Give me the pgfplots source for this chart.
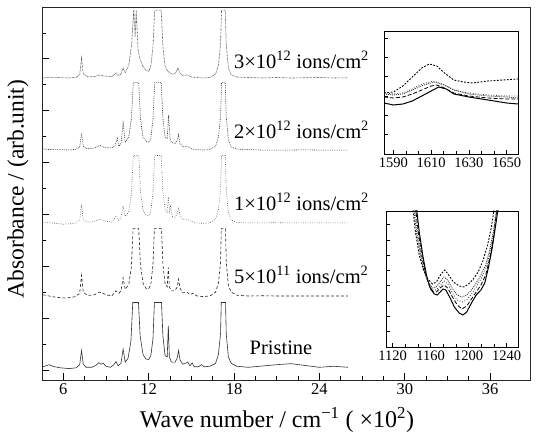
\documentclass[border=0pt]{standalone}
\usepackage{fontspec}
\setmainfont{Liberation Serif}
\usepackage{pgfplots}
\pgfplotsset{compat=1.18}
\usepackage{pgfplotstable}

% Pristine (relative to its baseline, clipped peaks at 2.6)
\pgfplotstableread{
x y
4.55 0.12
4.8 0.16
5.0 0.2
5.3 0.13
5.8 0.08
6.4 0.05
6.9 0.08
7.15 0.2
7.28 0.75
7.4 0.22
7.6 0.1
8.0 0.1
8.3 0.18
8.5 0.28
8.65 0.22
8.8 0.26
9.0 0.14
9.3 0.1
9.55 0.2
9.7 0.32
9.85 0.16
10.05 0.25
10.2 0.8
10.35 0.3
10.55 0.45
10.75 1.1
10.88 2.6
11.28 2.6
11.4 1.3
11.6 0.6
11.8 0.42
12.0 0.4
12.15 0.55
12.3 1.2
12.4 2.6
12.9 2.6
13.0 1.3
13.15 0.55
13.3 0.5
13.38 1.7
13.45 0.5
13.6 0.3
13.85 0.3
14.0 0.45
14.1 0.75
14.2 0.38
14.4 0.22
14.6 0.26
14.75 0.3
14.9 0.16
15.05 0.27
15.2 0.12
15.5 0.12
15.7 0.2
15.9 0.12
16.3 0.14
16.7 0.25
16.9 0.6
17.05 1.4
17.1 2.6
17.4 2.6
17.45 1.4
17.6 0.5
17.8 0.25
18.2 0.14
19.0 0.1
20.0 0.15
21.0 0.2
22.0 0.24
23.0 0.17
24.0 0.1
25.0 0.14
26.0 0.1
}\pristine

\pgfplotstableread{
x y
4.55 0.05
5.0 0.0
5.5 -0.05
6.2 -0.08
6.8 -0.03
7.15 0.1
7.28 0.8
7.4 0.15
7.7 0.02
8.2 0.05
8.5 0.15
8.7 0.12
9.0 0.05
9.4 0.0
9.7 0.2
9.9 0.1
10.05 0.2
10.2 0.7
10.35 0.25
10.6 0.45
10.78 1.1
10.9 2.6
11.3 2.6
11.42 1.2
11.6 0.5
11.8 0.3
12.0 0.28
12.15 0.45
12.3 1.2
12.4 2.6
12.9 2.6
13.0 1.2
13.15 0.5
13.3 0.35
13.38 1.1
13.45 0.35
13.6 0.2
13.85 0.2
14.0 0.35
14.1 0.65
14.2 0.3
14.4 0.12
14.7 0.15
14.9 0.05
15.1 0.1
15.4 0.0
15.8 -0.02
16.3 0.0
16.7 0.15
16.9 0.5
17.05 1.3
17.1 2.6
17.4 2.6
17.45 1.3
17.6 0.4
17.8 0.15
18.2 0.03
19 0.0
20 0.01
21 0.0
22 0.0
23 0.0
24 0.0
25 0.0
26 0.0
}\fivee

\pgfplotstableread{
x y
4.55 0.04
5.2 0.0
6.0 -0.05
6.8 -0.02
7.15 0.1
7.28 0.7
7.4 0.12
7.8 0.02
8.3 0.08
8.6 0.15
8.9 0.08
9.4 0.02
9.7 0.25
9.9 0.1
10.05 0.2
10.2 0.65
10.35 0.25
10.6 0.45
10.78 1.1
10.92 2.6
11.3 2.6
11.42 1.2
11.6 0.5
11.8 0.3
12.0 0.28
12.15 0.45
12.3 1.2
12.42 2.6
12.88 2.6
13.0 1.2
13.15 0.5
13.3 0.4
13.38 1.0
13.48 0.45
13.55 0.7
13.65 0.25
13.85 0.22
14.0 0.35
14.1 0.6
14.2 0.28
14.4 0.12
14.7 0.14
15.0 0.05
15.4 0.0
15.8 -0.02
16.3 0.0
16.7 0.15
16.9 0.5
17.05 1.3
17.12 2.6
17.38 2.6
17.45 1.3
17.6 0.4
17.8 0.12
18.2 0.02
19 0.0
20 0.0
21 0.01
22 0.0
23 0.0
24 0.0
25 0.0
26 0.0
}\onet

\pgfplotstableread{
x y
4.55 0.05
5.0 0.02
5.6 0.03
6.3 0.0
6.9 0.03
7.15 0.12
7.28 0.65
7.4 0.15
7.7 0.05
8.2 0.08
8.6 0.18
8.9 0.1
9.4 0.08
9.65 0.2
9.8 0.45
9.9 0.15
10.05 0.25
10.2 1.05
10.35 0.3
10.6 0.5
10.78 1.2
10.92 2.6
11.3 2.6
11.42 1.2
11.6 0.5
11.8 0.35
12.0 0.3
12.15 0.45
12.3 1.2
12.42 2.6
12.88 2.6
13.0 1.2
13.15 0.5
13.3 0.45
13.4 1.35
13.5 0.45
13.6 0.3
13.85 0.25
14.0 0.35
14.1 0.6
14.2 0.25
14.4 0.12
14.7 0.15
15.0 0.05
15.4 0.02
15.8 0.0
16.3 0.02
16.7 0.15
16.9 0.5
17.05 1.3
17.12 2.6
17.38 2.6
17.45 1.3
17.6 0.4
17.8 0.12
18.2 0.04
19 0.02
20 0.0
21 0.0
22 0.0
23 0.01
24 0.0
25 0.0
26 0.0
}\twot

\pgfplotstableread{
x y
4.55 0.0
5.0 0.03
5.6 0.02
6.3 0.0
6.9 0.03
7.15 0.12
7.28 0.77
7.4 0.15
7.7 0.05
8.2 0.05
8.5 0.12
8.8 0.08
9.4 0.05
9.7 0.2
9.85 0.1
10.05 0.15
10.2 0.38
10.35 0.2
10.6 0.5
10.8 1.3
10.95 2.62
11.05 1.6
11.12 2.62
11.25 1.1
11.4 0.7
11.6 0.45
11.8 0.3
12.0 0.25
12.15 0.45
12.3 1.2
12.42 2.62
12.88 2.62
13.0 1.2
13.15 0.45
13.3 0.3
13.45 0.2
13.7 0.15
13.9 0.2
14.05 0.38
14.2 0.2
14.4 0.1
14.7 0.12
15.0 0.04
15.4 0.02
15.8 0.0
16.3 0.02
16.7 0.15
16.9 0.5
17.05 1.3
17.12 2.62
17.38 2.62
17.45 1.3
17.6 0.4
17.8 0.12
18.2 0.04
19 0.02
20 0.0
21 0.02
22 0.0
23 0.01
24 0.02
25 0.0
26 0.01
}\threet

\begin{document}
\begin{tikzpicture}
\path[use as bounding box] (0pt,0pt) rectangle (539pt,439pt);
\begin{axis}[
  at={(42pt,59pt)}, anchor=south west, scale only axis,
  width=488pt, height=373pt,
  xmin=4.5, xmax=38.8, ymin=-0.39, ymax=14,
  xtick={6,12,...,36}, minor x tick num=3,
  ytick={0,2,...,14}, minor ytick={1,3,...,13}, yticklabels={},
  xtick pos=bottom, ytick pos=left, tick align=inside,
  major tick length=7pt, minor tick length=4pt,
  axis line style={line width=0.9pt, black!85},
  every tick/.style={black, line width=0.7pt},
  every minor tick/.style={black, line width=0.7pt},
  tick label style={font=\fontsize{16.5}{18}\selectfont},
  /pgf/number format/assume math mode=true,
  clip=true,
]
\addplot[black!80, line width=0.6pt] table[x=x, y=y] {\pristine};
\addplot[black!85, line width=0.6pt, dash pattern=on 3pt off 2pt] table[x=x, y expr=\thisrow{y}+2.85] {\fivee};
\addplot[black!70, line width=0.6pt, dash pattern=on 0.7pt off 1.6pt] table[x=x, y expr=\thisrow{y}+5.67] {\onet};
\addplot[black!80, line width=0.6pt, dash pattern=on 0.8pt off 1pt] table[x=x, y expr=\thisrow{y}+8.48] {\twot};
\addplot[black!80, line width=0.6pt, dash pattern=on 0.6pt off 0.8pt] table[x=x, y expr=\thisrow{y}+11.26] {\threet};
\node[anchor=west, font=\fontsize{20.5}{22}\selectfont] at (axis cs:17.75,11.96) {3×10\textsuperscript{12} ions/cm\textsuperscript{2}};
\node[anchor=west, font=\fontsize{20.5}{22}\selectfont] at (axis cs:17.75,9.26) {2×10\textsuperscript{12} ions/cm\textsuperscript{2}};
\node[anchor=west, font=\fontsize{20.5}{22}\selectfont] at (axis cs:17.75,6.48) {1×10\textsuperscript{12} ions/cm\textsuperscript{2}};
\node[anchor=west, font=\fontsize{20.5}{22}\selectfont] at (axis cs:17.75,3.66) {5×10\textsuperscript{11} ions/cm\textsuperscript{2}};
\node[font=\fontsize{20.5}{22}\selectfont] at (axis cs:21.3,0.85) {Pristine};
\end{axis}

% upper inset
\begin{axis}[
  at={(384pt,285pt)}, anchor=south west, scale only axis,
  width=134pt, height=123pt,
  xmin=1585, xmax=1656, ymin=0, ymax=123,
  xtick={1590,1610,1630,1650}, minor x tick num=2,
  ytick={0,19.3,...,120}, yticklabels={},
  xtick pos=bottom, ytick pos=left, tick align=inside,
  major tick length=4pt, minor tick length=3pt,
  axis line style={line width=0.8pt},
  every tick/.style={black, line width=0.6pt},
  tick label style={font=\fontsize{14.5}{16}\selectfont},
  /pgf/number format/assume math mode=true,
  /pgf/number format/1000 sep={},
]
\addplot[black, line width=1pt] coordinates {(1585,51) (1590,49) (1595,50) (1600,53) (1605,58) (1610,63) (1614,67) (1618,65) (1622,60) (1630,57) (1640,54) (1650,51) (1656,50)};
\addplot[black, line width=0.8pt, dash pattern=on 4pt off 2pt] coordinates {(1585,57) (1590,56) (1595,57) (1600,60) (1605,64) (1610,68) (1613,69) (1617,66) (1622,61) (1630,58) (1640,56) (1650,55) (1656,55)};
\addplot[black!80, line width=0.8pt, dash pattern=on 0.8pt off 1.8pt] coordinates {(1585,61) (1590,60) (1595,61) (1600,65) (1605,70) (1611,73) (1616,70) (1622,64) (1630,61) (1640,59) (1650,58) (1656,58)};
\addplot[black!80, line width=0.8pt, dash pattern=on 1pt off 1pt] coordinates {(1585,60) (1590,59) (1595,60) (1600,64) (1606,69) (1612,72) (1617,69) (1622,64) (1630,60) (1640,58) (1650,57) (1656,56)};
\addplot[black, line width=0.9pt, dash pattern=on 1.8pt off 1.5pt] coordinates {(1585,61) (1590,62) (1595,68) (1600,77) (1605,86) (1609,90) (1613,88) (1617,81) (1622,74) (1627,72) (1632,71) (1640,73) (1648,74) (1656,75)};
\end{axis}

% lower inset
\begin{axis}[
  at={(386pt,92pt)}, anchor=south west, scale only axis,
  width=132pt, height=136pt,
  xmin=1113, xmax=1252, ymin=0, ymax=136,
  xtick={1120,1160,1200,1240}, minor x tick num=2,
  ytick={0,15.3,...,136}, yticklabels={},
  xtick pos=bottom, ytick pos=left, tick align=inside,
  major tick length=4pt, minor tick length=3pt,
  axis line style={line width=0.8pt},
  every tick/.style={black, line width=0.6pt},
  tick label style={font=\fontsize{14.5}{16}\selectfont},
  /pgf/number format/assume math mode=true,
  /pgf/number format/1000 sep={},
]
\addplot[black, line width=1pt] coordinates {(1145,140) (1148,115) (1152,90) (1156,70) (1160,58) (1164,53) (1167,52) (1170,55) (1173,58) (1176,57) (1180,50) (1185,40) (1190,34) (1194,32) (1198,35) (1203,44) (1208,52) (1213,57) (1217,64) (1221,80) (1225,100) (1229,125) (1232,145)};
\addplot[black, line width=0.8pt, dash pattern=on 4pt off 2pt] coordinates {(1144,140) (1147,115) (1151,90) (1155,72) (1159,60) (1163,55) (1166,55) (1170,59) (1174,62) (1178,59) (1183,50) (1188,42) (1193,38) (1198,41) (1203,48) (1208,55) (1213,62) (1218,72) (1222,88) (1226,108) (1230,140)};
\addplot[black!80, line width=0.8pt, dash pattern=on 0.8pt off 1.8pt] coordinates {(1143,140) (1146,115) (1150,92) (1154,74) (1158,62) (1162,57) (1166,57) (1170,61) (1174,66) (1178,63) (1183,54) (1188,47) (1193,45) (1198,47) (1203,53) (1208,60) (1213,68) (1218,78) (1222,92) (1226,112) (1230,140)};
\addplot[black!80, line width=0.8pt, dash pattern=on 1pt off 1pt] coordinates {(1142,140) (1145,116) (1149,93) (1153,76) (1158,64) (1162,59) (1166,60) (1170,65) (1174,70) (1178,67) (1183,58) (1188,52) (1193,50) (1198,52) (1203,57) (1208,64) (1213,72) (1218,82) (1222,96) (1226,115) (1230,140)};
\addplot[black, line width=0.9pt, dash pattern=on 1.8pt off 1.5pt] coordinates {(1141,140) (1144,115) (1148,92) (1152,78) (1157,68) (1162,63) (1166,65) (1171,73) (1175,77) (1179,72) (1184,65) (1190,61) (1195,60) (1200,63) (1205,68) (1210,75) (1215,86) (1220,102) (1224,120) (1228,145)};
\end{axis}

\node[font=\fontsize{24}{27}\selectfont] at (277pt,19pt) {Wave number / cm\textsuperscript{−1} ( ×10\textsuperscript{2})};
\node[font=\fontsize{23.5}{26}\selectfont, rotate=90] at (18pt,250pt) {Absorbance / (arb.unit)};
\end{tikzpicture}
\end{document}
